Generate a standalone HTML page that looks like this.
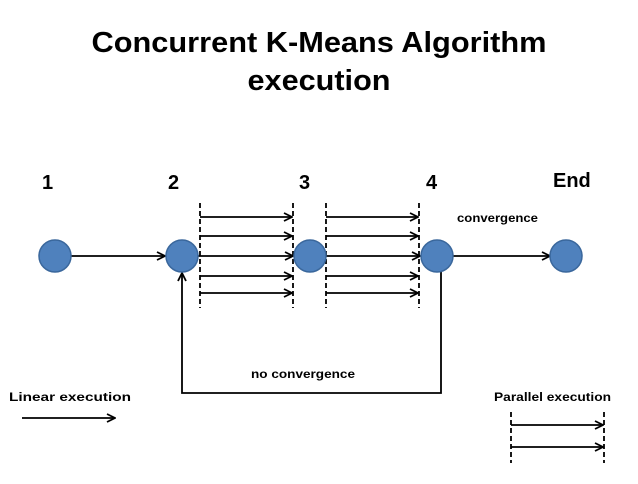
<!DOCTYPE html>
<html><head><style>
body{margin:0;background:#fff;width:638px;height:479px;overflow:hidden}
svg text{font-family:"Liberation Sans",sans-serif;font-weight:bold;fill:#000}
</style></head><body>
<svg width="638" height="479" viewBox="0 0 638 479">
<defs><marker id="a" markerWidth="10" markerHeight="10" refX="9" refY="5" orient="auto" markerUnits="userSpaceOnUse"><path d="M1,1 L9,5 L1,9" fill="none" stroke="#000" stroke-width="1.8"/></marker></defs>
<text x="319" y="52" font-size="29" text-anchor="middle" textLength="455" lengthAdjust="spacingAndGlyphs">Concurrent K-Means Algorithm</text>
<text x="319" y="90" font-size="29" text-anchor="middle" textLength="143" lengthAdjust="spacingAndGlyphs">execution</text>
<g font-size="20"><text x="42" y="189">1</text><text x="168" y="189">2</text><text x="299" y="189">3</text><text x="426" y="189">4</text><text x="553" y="187">End</text></g>
<text x="457" y="222" font-size="12" textLength="81" lengthAdjust="spacingAndGlyphs">convergence</text>
<text x="251" y="378" font-size="12" textLength="104" lengthAdjust="spacingAndGlyphs">no convergence</text>
<text x="9" y="401" font-size="12" textLength="122" lengthAdjust="spacingAndGlyphs">Linear execution</text>
<text x="494" y="401" font-size="12" textLength="117" lengthAdjust="spacingAndGlyphs">Parallel execution</text>
<g stroke="#000" stroke-width="1.8" fill="none">
<g stroke-dasharray="5,3"><line x1="200" y1="203" x2="200" y2="308"/><line x1="293" y1="203" x2="293" y2="308"/><line x1="326" y1="203" x2="326" y2="308"/><line x1="419" y1="203" x2="419" y2="308"/><line x1="511" y1="412" x2="511" y2="463"/><line x1="604" y1="412" x2="604" y2="463"/></g>
<g marker-end="url(#a)">
<line x1="200" y1="217" x2="292" y2="217"/><line x1="200" y1="236" x2="292" y2="236"/><line x1="200" y1="276" x2="292" y2="276"/><line x1="200" y1="293" x2="292" y2="293"/>
<line x1="326" y1="217" x2="418" y2="217"/><line x1="326" y1="236" x2="418" y2="236"/><line x1="326" y1="276" x2="418" y2="276"/><line x1="326" y1="293" x2="418" y2="293"/>
<line x1="71" y1="256" x2="165" y2="256"/><line x1="198" y1="256" x2="293" y2="256"/><line x1="326" y1="256" x2="420" y2="256"/><line x1="453" y1="256" x2="550" y2="256"/>
<polyline points="441,272 441,393 182,393 182,273"/>
<line x1="22" y1="418" x2="115" y2="418"/><line x1="511" y1="425" x2="603" y2="425"/><line x1="511" y1="447" x2="603" y2="447"/>
</g></g>
<g fill="#4F81BD" stroke="#3A679C" stroke-width="1.5">
<circle cx="55" cy="256" r="16"/><circle cx="182" cy="256" r="16"/><circle cx="310" cy="256" r="16"/><circle cx="437" cy="256" r="16"/><circle cx="566" cy="256" r="16"/>
</g>
</svg>
</body></html>
